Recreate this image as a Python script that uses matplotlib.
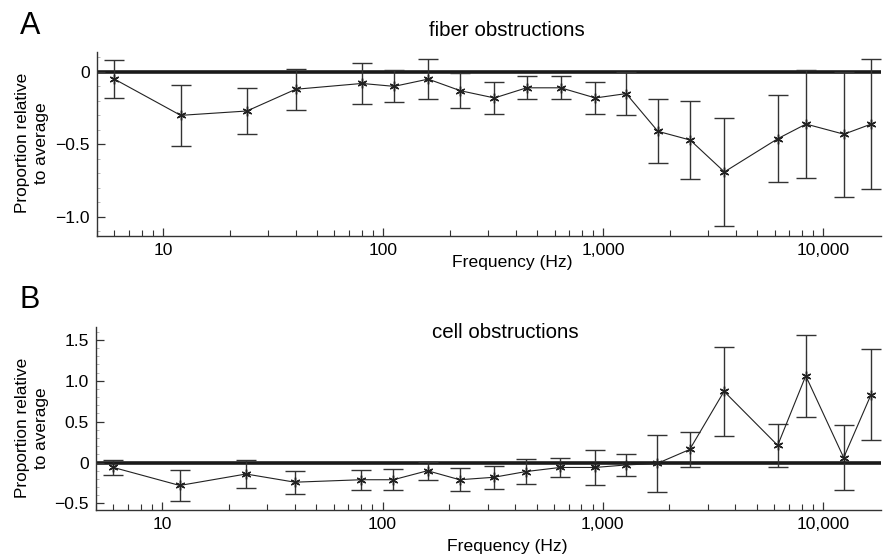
import matplotlib
matplotlib.use('Agg')
import matplotlib.pyplot as plt
from matplotlib.ticker import FixedLocator, FuncFormatter, LogLocator, NullFormatter, MultipleLocator
import numpy as np

plt.rcParams['font.family'] = ['Liberation Sans', 'DejaVu Sans']

# frequencies (Hz), shared by both panels
freq = [6, 12, 24, 40, 80, 112, 160, 224, 320, 448, 640, 920,
        1270, 1770, 2480, 3550, 6220, 8340, 12400, 16500]

# A: fiber obstructions
fiber_mean = [-0.05, -0.30, -0.27, -0.12, -0.08, -0.10, -0.05, -0.13, -0.18, -0.11,
              -0.11, -0.18, -0.15, -0.41, -0.47, -0.69, -0.46, -0.36, -0.43, -0.36]
fiber_err = [0.13, 0.21, 0.16, 0.14, 0.14, 0.11, 0.14, 0.12, 0.11, 0.08,
             0.08, 0.11, 0.15, 0.22, 0.27, 0.37, 0.30, 0.37, 0.43, 0.45]

# B: cell obstructions
cell_mean = [-0.06, -0.28, -0.14, -0.24, -0.21, -0.21, -0.10, -0.21, -0.18, -0.11,
             -0.06, -0.06, -0.03, -0.01, 0.16, 0.87, 0.21, 1.06, 0.06, 0.83]
cell_err = [0.09, 0.19, 0.17, 0.14, 0.12, 0.13, 0.11, 0.14, 0.14, 0.15,
            0.12, 0.21, 0.14, 0.35, 0.21, 0.54, 0.26, 0.50, 0.40, 0.56]

xticks = [10, 100, 1000, 10000]
xticklabels = ['10', '100', '1,000', '10,000']


def ylab(v, pos):
    if abs(v) < 1e-9:
        return '0'
    return ('%.1f' % v).replace('-', '\u2212')


def draw_panel(ax, mean, err, ylim, yticks):
    ax.axhline(0, color='#1a1a1a', lw=2.6, zorder=1)
    ax.errorbar(freq, mean, yerr=err, fmt='-', color='#222222', lw=0.8,
                ecolor='#333333', elinewidth=1.0, capsize=7, capthick=1.0,
                marker=(6, 2, 0), markersize=7, markeredgewidth=1.0,
                markeredgecolor='#222222', zorder=3)
    ax.set_xscale('log')
    ax.set_xlim(5, 18300)
    ax.set_ylim(*ylim)
    ax.xaxis.set_major_locator(FixedLocator(xticks))
    ax.set_xticklabels(xticklabels)
    ax.xaxis.set_minor_locator(LogLocator(base=10, subs=np.arange(2, 10)))
    ax.xaxis.set_minor_formatter(NullFormatter())
    ax.yaxis.set_major_locator(FixedLocator(yticks))
    ax.yaxis.set_major_formatter(FuncFormatter(ylab))
    ax.yaxis.set_minor_locator(MultipleLocator(0.1))
    ax.spines['top'].set_visible(False)
    ax.spines['right'].set_visible(False)
    for s in ('left', 'bottom'):
        ax.spines[s].set_color('#333333')
        ax.spines[s].set_linewidth(1.0)
    ax.tick_params(axis='both', which='major', direction='in', length=6,
                   width=0.9, color='#333333', labelsize=12.6, pad=5)
    ax.tick_params(axis='x', which='minor', direction='in', length=4,
                   width=0.8, color='#333333')
    ax.tick_params(axis='y', which='minor', direction='in', length=2,
                   width=0.5, color='#999999')


fig = plt.figure(figsize=(8.91, 5.58), dpi=100)
ax1 = fig.add_axes([0.1089, 0.5776, 0.880, 0.330])
ax2 = fig.add_axes([0.1077, 0.0860, 0.881, 0.3285])

draw_panel(ax1, fiber_mean, fiber_err, (-1.13, 0.14), [-1.0, -0.5, 0])
draw_panel(ax2, cell_mean, cell_err, (-0.58, 1.66), [-0.5, 0, 0.5, 1.0, 1.5])

fig.text(30 / 891, 1 - 26 / 558, 'A', fontsize=22, ha='center', va='center')
fig.text(30 / 891, 1 - 300 / 558, 'B', fontsize=22, ha='center', va='center')
fig.text(507 / 891, 1 - 30 / 558, 'fiber obstructions', fontsize=14.8, ha='center', va='center')
fig.text(505 / 891, 1 - 332 / 558, 'cell obstructions', fontsize=14.8, ha='center', va='center')
fig.text(512 / 891, 1 - 262 / 558, 'Frequency (Hz)', fontsize=12.6, ha='center', va='center')
fig.text(507 / 891, 1 - 547 / 558, 'Frequency (Hz)', fontsize=12.6, ha='center', va='center')
fig.text(32 / 891, 1 - 143 / 558, 'Proportion relative\nto average', fontsize=12.4,
         ha='center', va='center', rotation=90, linespacing=1.4)
fig.text(32 / 891, 1 - 428 / 558, 'Proportion relative\nto average', fontsize=12.4,
         ha='center', va='center', rotation=90, linespacing=1.4)

fig.savefig('out.png', dpi=100)
